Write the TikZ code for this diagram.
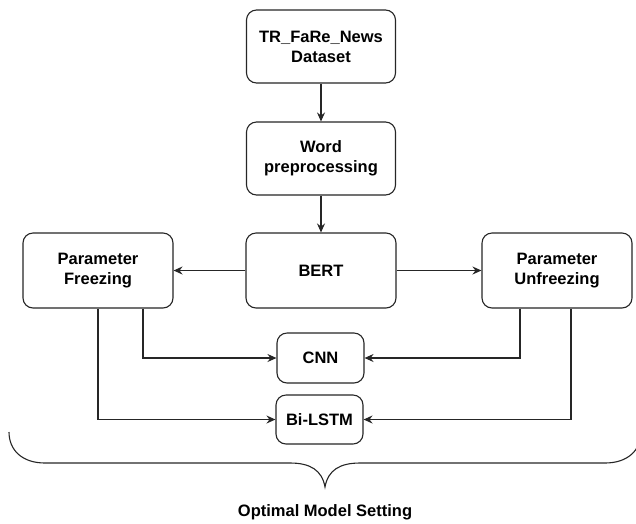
\documentclass[tikz,border=0pt]{standalone}
\usepackage{fontspec}
\setmainfont{Liberation Sans}
\usetikzlibrary{arrows.meta,calc}
\begin{document}
\begin{tikzpicture}[x=1pt,y=-1pt,
  box/.style={draw=black!85,line width=1.1pt,rounded corners=10pt,fill=white,
    align=center,inner sep=0pt,font=\fontsize{16.5}{20}\selectfont\bfseries},
  link/.style={draw=black!85,line width=1.1pt,
    -{Stealth[length=9pt,width=8pt,inset=3pt]}}]
\useasboundingbox (0,0) rectangle (636,523);
% processing pipeline
\node[box,minimum width=149pt,minimum height=73pt] (ds) at (321,46.5) {TR\_FaRe\_News\\Dataset};
\node[box,minimum width=149pt,minimum height=73pt] (wp) at (321,158.5) {Word\\preprocessing};
\node[box,minimum width=150pt,minimum height=75pt] (bert) at (321,270.5) {BERT};
\node[box,minimum width=150pt,minimum height=75pt] (pf) at (98,270.5) {Parameter\\Freezing};
\node[box,minimum width=150pt,minimum height=75pt] (pu) at (557,270.5) {Parameter\\Unfreezing};
\node[box,minimum width=87pt,minimum height=50pt] (cnn) at (320.5,358) {CNN};
\node[box,minimum width=87pt,minimum height=49pt] (lstm) at (319.5,419.5) {Bi-LSTM};
% connectors
\draw[link] (ds) -- (wp);
\draw[link] (wp) -- (bert);
\draw[link] (bert) -- (pf);
\draw[link] (bert) -- (pu);
\draw[link] ($(pf.south)+(45,0)$) |- (cnn.west);
\draw[link] (pf.south) |- (lstm.west);
\draw[link] ($(pu.south)+(-37,0)$) |- (cnn.east);
\draw[link] ($(pu.south)+(14,0)$) |- (lstm.east);
% brace grouping the classifiers
\draw[black!85,line width=1.1pt]
  (9,432) .. controls (9,450) and (22,463) .. (45,463)
  -- (290,463) .. controls (310,463) and (322,470) .. (325,487)
  .. controls (328,470) and (340,463) .. (360,463)
  -- (605,463) .. controls (628,463) and (641,450) .. (641,432);
\node[font=\fontsize{16.5}{20}\selectfont\bfseries] (opt) at (325,512) {Optimal Model Setting};
\end{tikzpicture}
\end{document}
